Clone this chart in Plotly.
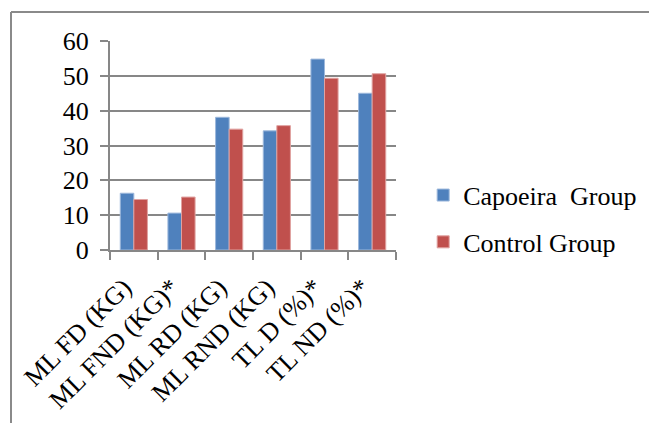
import plotly.graph_objects as go

categories = ["ML FD (KG)", "ML FND (KG)*", "ML RD (KG)", "ML RND (KG)", "TL D (%)*", "TL ND (%)*"]
capoeira = [16.3, 10.6, 38.1, 34.2, 54.8, 45.0]
control = [14.5, 15.2, 34.7, 35.7, 49.3, 50.6]
series_names = ["Capoeira\u00a0 Group", "Control Group"]

FONT = "Liberation Serif"
GRID = "#878787"

fig = go.Figure()
fig.add_trace(go.Bar(x=categories, y=capoeira, name=series_names[0], legendgroup="a",
                     marker=dict(color="#4F81BD", line=dict(color="#9DB8DC", width=1))))
fig.add_trace(go.Bar(x=categories, y=control, name=series_names[1], legendgroup="b",
                     marker=dict(color="#C0504D", line=dict(color="#E0A2A0", width=1))))

W, H = 649, 415
OFF = 8
L, T = 110 - OFF, 41 - OFF
R = W - (396 - OFF)
B = H - (250 - OFF)
pw, ph = W - L - R, H - T - B
bx = (11 - OFF - L) / pw
by = 1 + (T - (12 - OFF)) / ph

fig.update_layout(
    width=W, height=H,
    margin=dict(l=L, r=R, t=T, b=B, autoexpand=False),
    paper_bgcolor="white", plot_bgcolor="white",
    barmode="group", bargap=0.43, bargroupgap=0,
    font=dict(family=FONT, size=26, color="black"),
    showlegend=True,
    legend=dict(x=1.095, y=0.15, xanchor="left", yanchor="middle",
                traceorder="grouped", tracegroupgap=10, itemwidth=30,
                font=dict(family=FONT, size=26, color="black"),
                bgcolor="rgba(0,0,0,0)"),
    shapes=[
        dict(type="line", xref="paper", yref="paper", x0=bx, x1=3, y0=by, y1=by,
             line=dict(color="#8a8a8a", width=2)),
        dict(type="line", xref="paper", yref="paper", x0=bx, x1=bx, y0=by, y1=-3,
             line=dict(color="#8a8a8a", width=2)),
    ],
)
fig.update_yaxes(range=[0, 60], dtick=10, showgrid=True, gridcolor=GRID, gridwidth=2,
                 showline=True, linecolor=GRID, linewidth=2,
                 ticks="outside", ticklen=8, tickcolor=GRID, tickwidth=2,
                 ticklabelstandoff=6, zeroline=False,
                 tickfont=dict(family=FONT, size=26, color="black"))
fig.update_xaxes(showline=True, linecolor=GRID, linewidth=2,
                 ticks="outside", ticklen=8, tickcolor=GRID, tickwidth=2,
                 tickson="boundaries", tickangle=-45, ticklabelstandoff=10,
                 ticklabelshift=-10,
                 tickfont=dict(family=FONT, size=26, color="black"))

fig.write_html("out.html")
